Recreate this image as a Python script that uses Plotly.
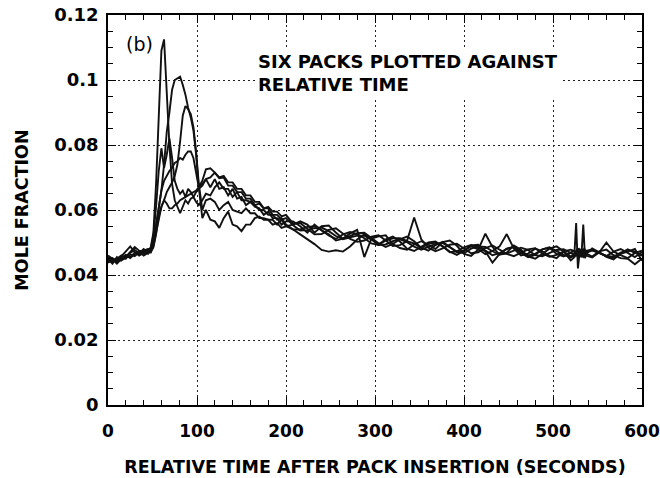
import plotly.graph_objects as go

# ---- time grid (seconds) ----
time_a = list(range(0, 46, 5))                 # 10 pts
time_b = list(range(48, 103, 3))               # 19 pts
time_c = [106] + list(range(110, 201, 5))      # 20 pts
time_d = list(range(208, 521, 8)) + list(range(524, 539, 2)) + list(range(544, 601, 8))  # 56 pts
time_s = time_a + time_b + time_c + time_d

# ---- six packs, mole fraction x 1000 ----
pack1 = [44.5, 45.2, 44.2, 45.8, 47.5, 48.8, 47, 46, 46.8, 47.5,
         48.5, 53, 68, 90, 109, 112.5, 94, 80, 68, 63, 61, 59, 61, 63, 62, 63.5, 64, 65.5, 66.5,
         67.5, 69.5, 67, 69.5, 66.5, 67, 64.5, 66.5, 63.5, 64, 61.5, 62.5, 61, 60.5, 58.5, 59.5, 57.5, 57.5, 55.5, 56.5,
         56.5, 55, 53, 55.5, 53.7, 52.5, 50.6, 51.2, 52.8, 53.9,
         45.5, 51.2, 51.9, 52.2, 49.5, 48.3, 47.8, 49.4, 50.4, 49.3,
         48, 50.1, 50.6, 49, 46.5, 45.9, 47.8, 52.7, 48.6, 46.3,
         46.9, 49.1, 47.8, 45.7, 45, 46.5, 48.1, 48.8, 47.2, 45.7,
         46.4, 47.5, 48.2, 46.2, 45.5, 46.9, 47.7, 46.7,
         48.2, 47, 45.6, 44.8, 46.6, 47.9, 46.8, 46]

pack2 = [45, 43.5, 45.5, 44.5, 46, 45.2, 46.5, 47.2, 46, 46.8,
         48, 50, 55, 60, 66, 74, 84, 90, 97, 100, 100.5, 101, 98.5, 95.5, 91.5, 88.5, 84.5, 77, 67,
         57.5, 60, 57, 56.5, 54.5, 57.5, 59.5, 55.5, 55, 53.5, 55.5, 55.5, 57.5, 58, 57, 57, 55.5, 56, 54.5, 55,
         54, 52.5, 51, 49.5, 47.7, 47.2, 47.6, 47.2, 48.8, 50.9,
         52.5, 51.2, 49.4, 51, 51.8, 50.3, 48.1, 47.4, 48.7, 50,
         50.3, 48.8, 47.2, 46.2, 47.5, 49.1, 49.3, 47.5, 46.1, 46.7,
         48, 48.6, 46.8, 45.5, 46.2, 47.9, 48.4, 46.5, 45.7, 46.9,
         47.5, 46.2, 45.8, 47, 47.8, 47.1, 46.1, 46.5,
         45.7, 47.3, 47.8, 46.1, 45.2, 45, 43.3, 45.1]

pack3 = [44, 44.8, 43.5, 45, 45.6, 47, 48.6, 47.5, 47.2, 46.5,
         47.5, 49, 53, 57, 61, 63, 65.5, 67, 68.5, 70.5, 74, 81, 89, 92, 91, 89.5, 85.5, 78, 68,
         60, 63, 63.5, 62.5, 60, 61.5, 62.5, 60, 59.5, 59, 60.5, 59, 59, 57.5, 57.5, 57, 57, 55.5, 57, 55,
         55.5, 56.5, 55.5, 53, 55, 55.2, 53.1, 51.2, 52, 52.9,
         53, 51.5, 49.8, 48.6, 49.6, 51, 51.8, 50.4, 48.4, 47.5,
         49.2, 50.2, 48.7, 47, 47.6, 48.8, 47.9, 46.4, 47.4, 48.8,
         52.6, 48.1, 46, 46.6, 48.1, 47.3, 45.9, 45.2, 47.2, 44.5,
         45.5, 46.4, 47.3, 47.9, 46.9, 45.8, 46.3, 47.4,
         47.8, 46.9, 45.8, 47.2, 48, 46.8, 45.5, 47.1]

pack4 = [46, 45, 44.5, 45.2, 46.2, 45.5, 46.8, 46.3, 47.5, 48,
         48, 52, 61, 72, 79, 73, 77, 82, 76, 69, 66.5, 65, 66, 64, 66.5, 65.5, 64, 62.5, 61.5,
         63, 65, 64.5, 67, 68.5, 66.5, 66.5, 64, 65.5, 63, 63, 62.5, 61.5, 60, 60, 58.5, 58.5, 57, 57.5, 55.5,
         54, 54, 54.8, 55, 53.8, 52.2, 51.1, 52.5, 53.2, 52.6,
         51.3, 49.7, 49.2, 50.6, 51.3, 51.3, 50.5, 57.7, 51, 48.4,
         47.3, 48.2, 49.3, 49.6, 48.2, 46.7, 47, 48.3, 49.1, 47.9,
         46.5, 45.8, 46.9, 47.9, 48.2, 46.6, 45.6, 46.2, 47.3, 47.8,
         47.3, 46.2, 45.7, 46.5, 47.4, 47.9, 47, 45.9,
         45.4, 47, 50, 47.2, 46.1, 45.2, 46.8, 47.5]

pack5 = [43.8, 44.5, 44, 44.5, 45.2, 46.3, 45.8, 47, 46.6, 47.2,
         47, 50, 55, 61, 66, 69, 70.5, 72, 73, 74.5, 75, 76, 75.5, 77, 78, 78, 76, 71.5, 67,
         69, 72.5, 72.8, 71.5, 69.8, 70, 67.5, 67.5, 65.5, 65.5, 63.5, 63.5, 61.5, 62, 60.5, 61, 59.5, 59.5, 58, 58.5,
         55.8, 56, 54.2, 52.5, 52.6, 53.9, 54.4, 52.8, 51.1, 50.2,
         50.6, 51.8, 52.2, 50.6, 48.9, 49.2, 50.4, 49.7, 48.3, 49.6,
         50, 48.9, 47, 47.3, 48.5, 49.2, 48.4, 47.3, 43.8, 46.5,
         48.1, 48.7, 47.3, 46, 46.5, 47.9, 48.5, 47.3, 46.2, 45.4,
         46, 47.1, 47.8, 46.9, 46.1, 45.6, 46.5, 47.5,
         47.7, 46.8, 45.8, 45.3, 46.5, 47.2, 48, 44.4]

pack6 = [45.5, 44.3, 45, 46, 45, 46.8, 47.7, 46.6, 48, 47,
         47, 48.5, 52.5, 58, 61, 63, 62, 60.5, 60.5, 61.5, 62, 63, 63.5, 64, 64.5, 65, 65.5, 66, 67,
         68, 69.5, 70, 71.5, 70, 70.5, 68.5, 68.5, 66.5, 66.5, 64.5, 64.5, 62.5, 62.5, 60.5, 60.5, 58.5, 58.5, 57, 57.5,
         55.3, 53.7, 53.8, 54.4, 54.6, 53.5, 52, 51, 51.5, 52.1,
         52.1, 50.9, 49.2, 49.4, 50.4, 51, 50.1, 48.7, 47.8, 48.8,
         49.6, 49.9, 48.5, 47.2, 46.7, 48.1, 48.8, 48.6, 47.3, 46.3,
         46.6, 47.6, 48.4, 47.7, 46.1, 45.8, 46.8, 47.7, 47.9, 46.8,
         46.2, 56, 42, 47.1, 46.1, 55.5, 45.2, 47,
         47.5, 46.8, 45.9, 45.6, 46.9, 47.7, 47.2, 46.2]

packs = [pack1, pack2, pack3, pack4, pack5, pack6]
x_ticks = [0, 100, 200, 300, 400, 500, 600]
y_ticks = [0, 0.02, 0.04, 0.06, 0.08, 0.1, 0.12]
y_tick_text = ["0", "0.02", "0.04", "0.06", "0.08", "0.1", "0.12"]

fig = go.Figure()
for i, p in enumerate(packs):
    assert len(p) == len(time_s), (i, len(p), len(time_s))
    fig.add_trace(go.Scatter(
        x=time_s, y=[v / 1000 for v in p], mode="lines",
        line=dict(color="#111111", width=1.9), name=f"Pack {i+1}",
        showlegend=False, hoverinfo="x+y"))

FONT = "DejaVu Sans"
axis_common = dict(
    showline=True, linecolor="black", linewidth=1.6, mirror="allticks",
    ticks="inside", ticklen=8, tickwidth=1.4, tickcolor="black",
    showgrid=True, gridcolor="#222222", gridwidth=1.2, griddash="2px,3px",
    zeroline=False, ticklabeloverflow="allow",
)

fig.update_xaxes(
    range=[0, 600], tickvals=x_ticks, ticktext=[str(v) for v in x_ticks],
    minor=dict(ticks="inside", ticklen=5, tickwidth=1.2, tickcolor="black", dtick=20, tick0=0, showgrid=False),
    ticklabelstandoff=10,
    tickfont=dict(family=FONT, size=17, color="black", weight="bold"),
    title=dict(text="RELATIVE TIME AFTER PACK INSERTION (SECONDS)",
               font=dict(family=FONT, size=17.5, color="black", weight="bold"), standoff=21),
    **axis_common)
fig.update_yaxes(
    range=[0, 0.12], tickvals=y_ticks, ticktext=y_tick_text,
    minor=dict(ticks="inside", ticklen=5, tickwidth=1.2, tickcolor="black", dtick=0.005, tick0=0, showgrid=False),
    ticklabelstandoff=4,
    tickfont=dict(family=FONT, size=18, color="black", weight="bold"),
    title=dict(text="MOLE FRACTION",
               font=dict(family=FONT, size=17.5, color="black", weight="bold"), standoff=21),
    **axis_common)

fig.add_annotation(x=35.4, y=0.1111, xref="x", yref="y", text="(b)", showarrow=False,
                   font=dict(family=FONT, size=19, color="black"), xanchor="center", yanchor="middle")
fig.add_annotation(x=165.2, y=0.1023, xref="x", yref="y",
                   text="SIX PACKS PLOTTED AGAINST<br>RELATIVE TIME", showarrow=False, align="left",
                   font=dict(family=FONT, size=18, color="black", weight="bold"),
                   xanchor="left", yanchor="middle", bgcolor="white", borderpad=2)

fig.update_layout(
    width=660, height=478,
    margin=dict(l=108, r=18, t=15, b=73, autoexpand=False),
    paper_bgcolor="white", plot_bgcolor="white",
)
# remove the default 8px page margin so the figure fills the 660x478 window exactly
fig.write_html("out.html", config={"displayModeBar": False},
               post_script="document.body.style.margin='0px';")
